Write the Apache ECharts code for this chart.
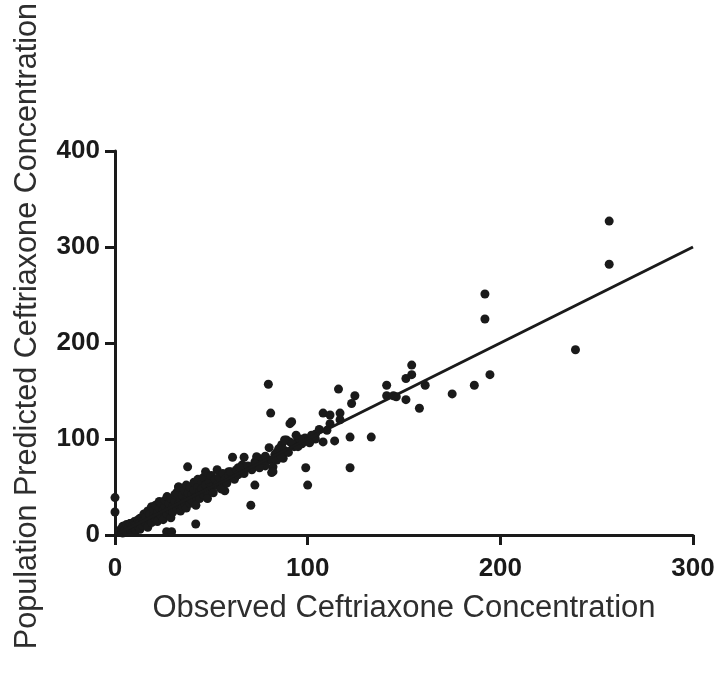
<!DOCTYPE html>
<html>
<head>
<meta charset="utf-8">
<script src="https://cdn.jsdelivr.net/npm/echarts@6/dist/echarts.min.js"></script>
<style>
html,body{margin:0;padding:0;background:#fff;}
#chart{width:719px;height:675px;}
</style>
</head>
<body>
<div id="chart"></div>
<script>
// Observed concentrations (x) and population predicted concentrations (y)
const observed = [
  256.5,256.5,192,192,239,194.6,186.5,175,161,158,154,154,151,151,146,141,141,144.5,
  116,124.5,122.8,108,111.6,116.8,116.8,111.6,110,133,122,114,108,122,99,100,98.6,91.7,90.8,
  79.6,80.8,93,86.5,89,90.8,87.3,80.4,81.3,82,72.6,74.4,70,72.6,70.5,61,67,53,37.7,57,41.9,
  26.8,29.4,0,0,80,85,83,95,104,100,97,76,78,68,65,63,60,58,55,64,66,59,
  88,84,82,73.5,68,66.6,60.5,58,54.5,44,45,39.8,33,32,27,22.5,19,18,13,7.8,4.3,2.6,
  2,3,4,4,5,6,6,7,8,8,9,9,10,10,11,11,12,12,13,13,14,14,15,15,16,16,17,17,18,18,19,19,
  20,20,21,21,22,22,23,23,24,24,25,25,26,26,27,27,28,28,29,29,30,30,31,31,32,32,33,33,
  34,34,35,35,36,36,37,37,38,38,39,39,40,40,41,41,42,42,43,43,44,44,45,45,46,46,47,47,
  48,48,49,50,50,51,52,53,54,55,56,57,58,59,60,62,63,64,65,67,69,71,73,75,77,78,
  84,85,88,92,95,96,102,104,106,101,90,83,86,94
];
const predicted = [
  327,282,251,225,193,167,156,147,156,132,177,167,163,141,144,156,145,145,
  152,145,137,127,125,127,120,116,109,102,102,98,97,70,70,52,101,118,116,
  157,127,92,94,99,97,80,78,65,71,76,80,71,52,31,81,81,68,71,46,11.5,
  3.4,3.4,39,24,91,88,84,100,105,98,95,75,72,70,66,62,60,63,57,70,73,66,
  99,78,66,81.6,71,68,61,55.5,50,55.5,45,50,50,43.6,36,33,29.5,22.6,17.4,12,8.6,3.4,
  3,6,9,2,5,11,3,8,5,12,9,3,7,14,11,5,9,16,13,6,18,10,15,22,12,19,8,25,16,22,29,13,
  20,26,17,31,23,14,28,35,20,33,26,16,30,36,22,40,27,33,18,38,30,24,35,42,28,44,32,50,
  37,25,41,30,46,34,28,52,39,44,33,50,42,36,47,55,40,31,50,58,45,38,55,48,42,60,52,66,
  45,38,56,50,62,44,58,52,60,48,64,58,54,62,66,58,68,63,70,64,72,68,74,70,78,82,
  86,90,88,95,92,100,104,100,110,96,86,80,82,104
];
// Identity (line of unity) endpoints
const lineX = [0, 300];
const lineY = [0, 300];
const xTicks = [0, 100, 200, 300];
const yTicks = [0, 100, 200, 300, 400];

const points = observed.map((v, i) => [v, predicted[i]]);
const linePts = lineX.map((v, i) => [v, lineY[i]]);

const FONT = 'Liberation Sans, Arial, Helvetica, sans-serif';
const chart = echarts.init(document.getElementById('chart'));
const axisCommon = {
  axisLine: {show: true, onZero: false, lineStyle: {color: '#1a1a1a', width: 3}},
  axisTick: {show: true, inside: false, length: 10, lineStyle: {color: '#1a1a1a', width: 3}},
  splitLine: {show: false},
  axisLabel: {color: '#1a1a1a', fontSize: 26, fontWeight: 'bold', fontFamily: FONT}
};
chart.setOption({
  animation: false,
  backgroundColor: '#fff',
  grid: {left: 115, right: 26, top: 151, bottom: 140, containLabel: false},
  xAxis: Object.assign({}, axisCommon, {
    type: 'value', min: xTicks[0], max: xTicks[xTicks.length - 1], interval: 100,
    axisLabel: Object.assign({}, axisCommon.axisLabel, {margin: 21}),
    name: 'Observed Ceftriaxone Concentration', nameLocation: 'middle', nameGap: 58,
    nameTextStyle: {fontSize: 31, color: '#2e2e2e', fontFamily: FONT}
  }),
  yAxis: Object.assign({}, axisCommon, {
    type: 'value', min: yTicks[0], max: yTicks[yTicks.length - 1], interval: 100,
    axisLabel: Object.assign({}, axisCommon.axisLabel, {margin: 15})
  }),
  graphic: [{
    type: 'text', x: 28, y: 326, rotation: Math.PI / 2,
    style: {
      text: 'Population Predicted Ceftriaxone Concentration',
      fontSize: 30.6, fill: '#2e2e2e', fontFamily: FONT,
      align: 'center', verticalAlign: 'middle'
    }
  }],
  series: [
    {
      type: 'scatter', data: points, symbol: 'circle', symbolSize: 9,
      itemStyle: {color: '#1a1a1a', opacity: 1}, z: 3
    },
    {
      type: 'line', data: linePts, symbol: 'none',
      lineStyle: {color: '#1a1a1a', width: 3}, z: 4
    }
  ]
});
</script>
</body>
</html>
